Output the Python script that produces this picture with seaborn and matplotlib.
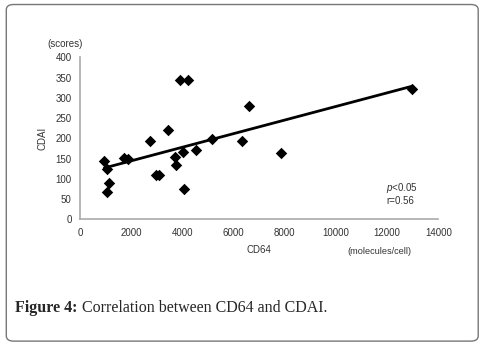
import matplotlib
matplotlib.use('Agg')
import matplotlib.pyplot as plt
import seaborn as sns
import pandas as pd
from matplotlib.patches import FancyBboxPatch

# values
cd64 = [950, 1068, 1146, 1068, 1732, 1888, 2735, 2970, 3087, 3426, 3907,
        4232, 3699, 3751, 4037, 4063, 4519, 5145, 6318, 6615, 7853, 12950]
cdai = [143, 124, 89, 67, 152, 150, 194, 109, 109, 221, 344,
        344, 155, 133, 165, 76, 170, 197, 193, 280, 163, 322]
x_ticks = [0, 2000, 4000, 6000, 8000, 10000, 12000, 14000]
y_ticks = [0, 50, 100, 150, 200, 250, 300, 350, 400]

df = pd.DataFrame({'CD64': cd64, 'CDAI': cdai})

sns.set_style('white')
plt.rcParams['font.family'] = ['Liberation Sans', 'DejaVu Sans']
plt.rcParams['mathtext.fontset'] = 'custom'
plt.rcParams['mathtext.it'] = 'Liberation Sans:italic'
plt.rcParams['mathtext.rm'] = 'Liberation Sans'

txt = '#333333'
fs = 7

fig = plt.figure(figsize=(4.85, 3.47), dpi=100)
ax = fig.add_axes([0.165, 0.368, 0.739, 0.467])

sns.regplot(data=df, x='CD64', y='CDAI', ax=ax, ci=None, marker='D',
            scatter_kws={'s': 34, 'color': 'black', 'alpha': 1, 'linewidths': 0},
            line_kws={'color': 'black', 'lw': 2.0})

ax.set_xlim(0, 14000)
ax.set_ylim(0, 400)
ax.set_xticks(x_ticks)
ax.set_yticks(y_ticks)
ax.tick_params(labelsize=fs, colors='#999999', labelcolor=txt, length=3,
               width=0.8, direction='out', pad=3)
for s in ['top', 'right']:
    ax.spines[s].set_visible(False)
for s in ['left', 'bottom']:
    ax.spines[s].set_color('#aaaaaa')
    ax.spines[s].set_linewidth(1.2)

ax.set_xlabel('CD64', fontsize=fs, color=txt, labelpad=5)
ax.set_ylabel('CDAI', fontsize=fs, color=txt, labelpad=6)

fig.text(0.097, 0.872, '(scores)', fontsize=fs, color=txt,
         va='center', ha='left')
fig.text(0.717, 0.274, '(molecules/cell)', fontsize=6.6, color=txt,
         va='center', ha='left')
ax.text(11950, 78, r'$p$<0.05', fontsize=fs, color=txt, ha='left', va='center')
ax.text(11950, 44, 'r=0.56', fontsize=fs, color=txt, ha='left', va='center')

# caption: bold label followed by the plain text
cap_y = 0.113
t1 = fig.text(0.031, cap_y, 'Figure 4:', fontsize=11.5, fontweight='bold',
              family='Liberation Serif', va='center', ha='left')
fig.canvas.draw()
bb = t1.get_window_extent().transformed(fig.transFigure.inverted())
fig.text(bb.x1 + 0.009, cap_y, 'Correlation between CD64 and CDAI.',
         fontsize=11.5, family='Liberation Serif', va='center', ha='left')

# rounded frame around the figure
frame = FancyBboxPatch((0.013, 0.017), 0.973, 0.97,
                       boxstyle='round,pad=0,rounding_size=0.015',
                       transform=fig.transFigure, fill=False,
                       edgecolor='#777777', lw=1.0)
fig.patches.append(frame)

fig.savefig('out.png', dpi=100)
